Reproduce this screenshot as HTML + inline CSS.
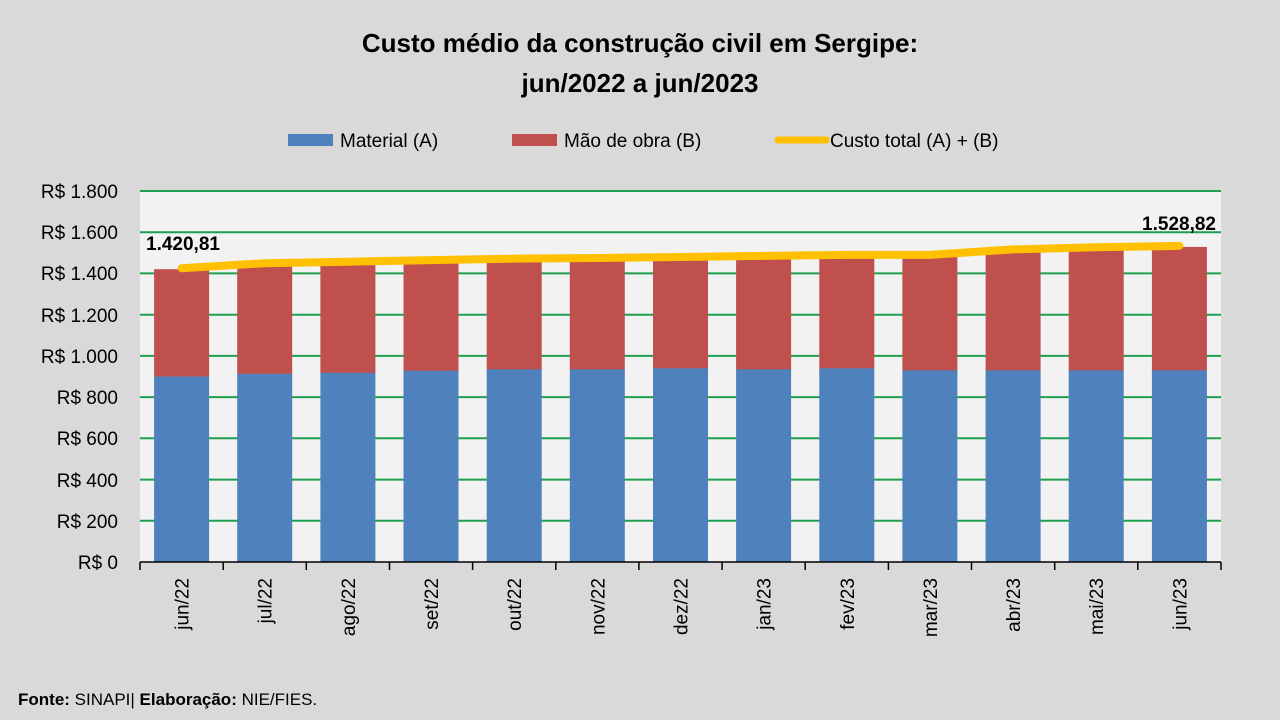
<!DOCTYPE html>
<html><head><meta charset="utf-8"><style>
body{margin:0;background:#d9d9d9}
svg{display:block;font-family:"Liberation Sans",sans-serif}
</style></head><body>
<svg width="1280" height="720" xmlns="http://www.w3.org/2000/svg">
<rect width="1280" height="720" fill="#d9d9d9"/>
<text x="640" y="52" text-anchor="middle" font-size="26" font-weight="bold" fill="#000">Custo médio da construção civil em Sergipe:</text>
<text x="640" y="92" text-anchor="middle" font-size="26" font-weight="bold" fill="#000">jun/2022 a jun/2023</text>
<rect x="288" y="134" width="45" height="12" fill="#4f81bd"/>
<text x="340" y="147" font-size="19" fill="#000">Material (A)</text>
<rect x="512" y="134" width="45" height="12" fill="#c0504d"/>
<text x="564" y="147" font-size="19" fill="#000">Mão de obra (B)</text>
<line x1="778" y1="140" x2="826" y2="140" stroke="#ffc000" stroke-width="7" stroke-linecap="round"/>
<text x="830" y="147" font-size="19" fill="#000">Custo total (A) + (B)</text>
<rect x="140" y="191" width="1081" height="371" fill="#f2f2f2"/>
<g stroke="#1fa050" stroke-width="2">
<line x1="140" x2="1221" y1="191" y2="191"/><line x1="140" x2="1221" y1="232.2" y2="232.2"/>
<line x1="140" x2="1221" y1="273.4" y2="273.4"/><line x1="140" x2="1221" y1="314.7" y2="314.7"/>
<line x1="140" x2="1221" y1="355.9" y2="355.9"/><line x1="140" x2="1221" y1="397.1" y2="397.1"/>
<line x1="140" x2="1221" y1="438.3" y2="438.3"/><line x1="140" x2="1221" y1="479.6" y2="479.6"/>
<line x1="140" x2="1221" y1="520.8" y2="520.8"/>
</g>
<g font-size="19" fill="#000" text-anchor="end">
<text x="118" y="198">R$ 1.800</text><text x="118" y="239">R$ 1.600</text>
<text x="118" y="280">R$ 1.400</text><text x="118" y="322">R$ 1.200</text>
<text x="118" y="363">R$ 1.000</text><text x="118" y="404">R$ 800</text>
<text x="118" y="445">R$ 600</text><text x="118" y="487">R$ 400</text>
<text x="118" y="528">R$ 200</text><text x="118" y="569">R$ 0</text>
</g>
<g fill="#c0504d">
<rect x="154.1" y="269.2" width="55" height="108"/>
<rect x="237.2" y="264.2" width="55" height="110"/>
<rect x="320.4" y="262.7" width="55" height="111"/>
<rect x="403.5" y="261.1" width="55" height="111"/>
<rect x="486.7" y="259.6" width="55" height="111"/>
<rect x="569.8" y="259.0" width="55" height="111"/>
<rect x="653.0" y="258.0" width="55" height="111"/>
<rect x="736.1" y="256.9" width="55" height="114"/>
<rect x="819.3" y="255.9" width="55" height="114"/>
<rect x="902.4" y="255.9" width="55" height="116"/>
<rect x="985.6" y="250.4" width="55" height="121"/>
<rect x="1068.7" y="248.3" width="55" height="123"/>
<rect x="1151.9" y="246.9" width="55" height="124"/>
</g>
<g fill="#4f81bd">
<rect x="154.1" y="376.5" width="55" height="185.5"/>
<rect x="237.2" y="373.8" width="55" height="188.2"/>
<rect x="320.4" y="372.8" width="55" height="189.2"/>
<rect x="403.5" y="370.7" width="55" height="191.3"/>
<rect x="486.7" y="369.3" width="55" height="192.7"/>
<rect x="569.8" y="369.3" width="55" height="192.7"/>
<rect x="653.0" y="368.3" width="55" height="193.7"/>
<rect x="736.1" y="369.3" width="55" height="192.7"/>
<rect x="819.3" y="368.3" width="55" height="193.7"/>
<rect x="902.4" y="370.3" width="55" height="191.7"/>
<rect x="985.6" y="370.3" width="55" height="191.7"/>
<rect x="1068.7" y="370.3" width="55" height="191.7"/>
<rect x="1151.9" y="370.3" width="55" height="191.7"/>
</g>
<g font-size="19" fill="#000" text-anchor="end">
<text transform="translate(188.6,578) rotate(-90)">jun/22</text>
<text transform="translate(271.7,578) rotate(-90)">jul/22</text>
<text transform="translate(354.9,578) rotate(-90)">ago/22</text>
<text transform="translate(438.0,578) rotate(-90)">set/22</text>
<text transform="translate(521.2,578) rotate(-90)">out/22</text>
<text transform="translate(604.3,578) rotate(-90)">nov/22</text>
<text transform="translate(687.5,578) rotate(-90)">dez/22</text>
<text transform="translate(770.6,578) rotate(-90)">jan/23</text>
<text transform="translate(853.8,578) rotate(-90)">fev/23</text>
<text transform="translate(936.9,578) rotate(-90)">mar/23</text>
<text transform="translate(1020.1,578) rotate(-90)">abr/23</text>
<text transform="translate(1103.2,578) rotate(-90)">mai/23</text>
<text transform="translate(1186.4,578) rotate(-90)">jun/23</text>
</g>
<line x1="140" x2="1221" y1="562" y2="562" stroke="#000" stroke-width="1.5"/>
<g stroke="#000" stroke-width="1.5">
<line x1="140" x2="140" y1="562" y2="570"/><line x1="223.2" x2="223.2" y1="562" y2="570"/>
<line x1="306.3" x2="306.3" y1="562" y2="570"/><line x1="389.5" x2="389.5" y1="562" y2="570"/>
<line x1="472.6" x2="472.6" y1="562" y2="570"/><line x1="555.8" x2="555.8" y1="562" y2="570"/>
<line x1="638.9" x2="638.9" y1="562" y2="570"/><line x1="722.1" x2="722.1" y1="562" y2="570"/>
<line x1="805.2" x2="805.2" y1="562" y2="570"/><line x1="888.4" x2="888.4" y1="562" y2="570"/>
<line x1="971.5" x2="971.5" y1="562" y2="570"/><line x1="1054.7" x2="1054.7" y1="562" y2="570"/>
<line x1="1137.8" x2="1137.8" y1="562" y2="570"/><line x1="1221" x2="1221" y1="562" y2="570"/>
</g>
<polyline fill="none" stroke="#ffc000" stroke-width="8" stroke-linecap="round" stroke-linejoin="round" points="181.6,268.2 264.7,263.2 347.9,261.7 431.0,260.1 514.2,258.6 597.3,258.0 680.5,257.0 763.6,255.9 846.8,254.9 929.9,254.9 1013.1,249.4 1096.2,247.3 1179.4,245.9"/>
<text x="146" y="250" font-size="19" font-weight="bold" fill="#000">1.420,81</text>
<text x="1216" y="230" font-size="19" font-weight="bold" fill="#000" text-anchor="end">1.528,82</text>
<text x="18" y="705" font-size="17" fill="#000"><tspan font-weight="bold">Fonte:</tspan> SINAPI| <tspan font-weight="bold">Elaboração:</tspan> NIE/FIES.</text>
</svg>
</body></html>
